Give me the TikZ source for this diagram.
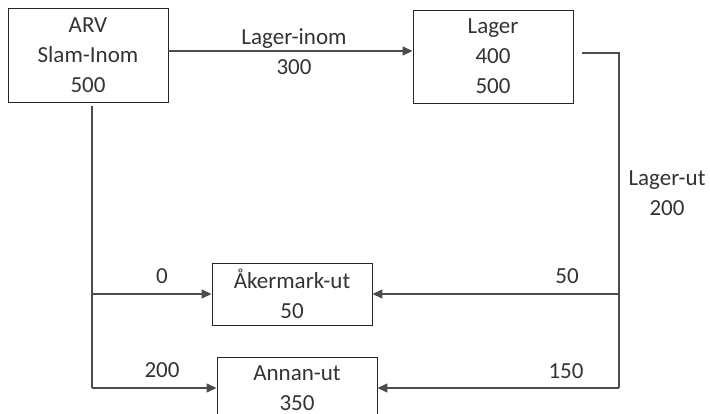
\documentclass[tikz,border=0pt]{standalone}
\usepackage{fontspec}
\setmainfont{Carlito}
\usetikzlibrary{arrows.meta}
\begin{document}
\begin{tikzpicture}[x=1pt,y=-1pt,
  box/.style={draw=black!85, line width=0.9pt, minimum width=160pt, inner sep=0pt, align=center, font=\fontsize{23}{30}\selectfont, text=black!80},
  lbl/.style={inner sep=0pt, align=center, font=\fontsize{23}{30}\selectfont, text=black!80},
  flow/.style={draw=black!70, line width=1.4pt},
  arr/.style={flow, -{Triangle[length=10pt,width=9pt]}}]
\useasboundingbox (0,0) rectangle (710,414);
\node[box, minimum height=94pt] (arv) at (88,55) {ARV\\Slam-Inom\\500};
\node[box, minimum height=93pt] (lager) at (493,56.5) {Lager\\400\\500};
\node[box, minimum height=62pt] (aker) at (292,294) {Åkermark-ut\\50};
\node[box, minimum height=62pt] (annan) at (297,388) {Annan-ut\\350};
% labels
\node[lbl] (l1) at (294,52) {Lager-inom\\300};
\node[lbl] (l2) at (667,193) {Lager-ut\\200};
\node[lbl] (l3) at (162,276) {0};
\node[lbl] (l4) at (162,370) {200};
\node[lbl] (l5) at (567,276) {50};
\node[lbl] (l6) at (566,371) {150};
% connectors
\coordinate (a1) at ([yshift=4pt]arv.east);
\draw[arr] (a1) -- (a1 -| lager.west);
\coordinate (s1) at ([xshift=9pt,yshift=3.5pt]lager.east);
\coordinate (c1) at (619,53);
\draw[flow] (s1) -- (c1) -- (c1 |- annan.east);
\draw[arr] (c1 |- aker.east) -- (aker.east);
\draw[arr] (c1 |- annan.east) -- (annan.east);
\coordinate (s2) at ([xshift=4pt,yshift=-4pt]arv.south);
\draw[flow] (s2) -- (s2 |- annan.west);
\draw[arr] (s2 |- aker.west) -- (aker.west);
\draw[arr] (s2 |- annan.west) -- (annan.west);
\end{tikzpicture}
\end{document}
